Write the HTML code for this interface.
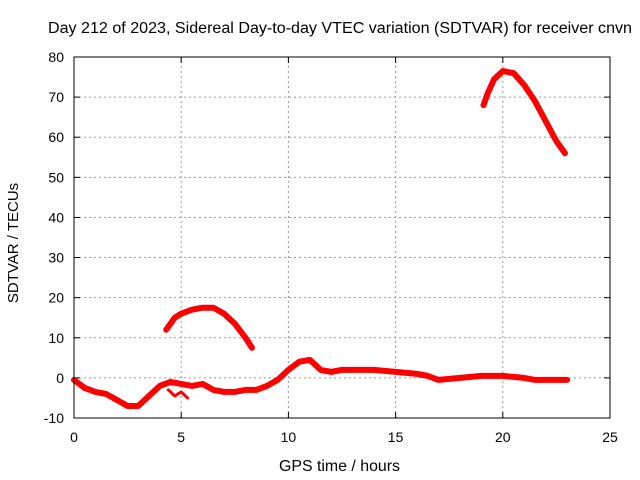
<!DOCTYPE html>
<html><head><meta charset="utf-8"><style>
body{margin:0;background:#fff;}
svg{display:block;font-family:"Liberation Sans",sans-serif;}
</style></head><body>
<svg id="chart" width="640" height="480" xmlns="http://www.w3.org/2000/svg">
<text x="48" y="33" font-size="15.5" textLength="584" lengthAdjust="spacingAndGlyphs">Day 212 of 2023, Sidereal Day-to-day VTEC variation (SDTVAR) for receiver cnvn</text>
<text x="279" y="471" font-size="15.5" textLength="121" lengthAdjust="spacingAndGlyphs">GPS time / hours</text>
<text x="18" y="243" font-size="15" text-anchor="middle" transform="rotate(-90 18 243)">SDTVAR / TECUs</text>
<g id="grid"></g><g id="ticks"></g><g id="series"></g>
<rect x="74" y="57" width="536" height="361" fill="none" stroke="#000" stroke-width="1"/>
</svg>
<script>
const xTicks=[0,5,10,15,20,25];
const yTicks=[-10,0,10,20,30,40,50,60,70,80];
const seriesMainX=[0,0.5,1,1.5,2,2.5,3,3.5,4,4.5,5,5.5,6,6.5,7,7.5,8,8.5,9,9.5,10,10.5,11,11.5,12,12.5,13,14,15,16,16.5,17,18,19,20,21,21.5,22,23];
const seriesMainY=[-0.5,-2.5,-3.5,-4,-5.5,-7,-7,-4.5,-2,-1,-1.5,-2,-1.5,-3,-3.5,-3.5,-3,-3,-2,-0.5,2,4,4.5,2,1.5,2,2,2,1.5,1,0.5,-0.5,0,0.5,0.5,0,-0.5,-0.5,-0.5];
const seriesMidX=[4.3,4.7,5,5.5,6,6.5,7,7.5,8,8.3];
const seriesMidY=[12,15,16,17,17.5,17.5,16,13.5,10,7.5];
const seriesHighX=[19.1,19.3,19.6,20,20.5,21,21.5,22,22.5,22.9];
const seriesHighY=[68,71,74.5,76.5,76,73,69,64,59,56];
const seriesNoiseX=[4.4,4.7,5,5.3];
const seriesNoiseY=[-3,-4.5,-3.5,-5];
const X0=74,X1=610,Y0=418,Y1=57;
const sx=v=>X0+(v-0)/25*(X1-X0);
const sy=v=>Y0-(v+10)/90*(Y0-Y1);
const NS="http://www.w3.org/2000/svg";
const grid=document.getElementById('grid'),ticks=document.getElementById('ticks'),ser=document.getElementById('series');
function mk(tag,attrs,parent){const e=document.createElementNS(NS,tag);for(const k in attrs)e.setAttribute(k,attrs[k]);parent.appendChild(e);return e;}
xTicks.forEach(t=>{const x=sx(t);
 if(t>0&&t<25){const g=mk('line',{x1:x,x2:x,y1:Y0,y2:Y1,stroke:'#999','stroke-dasharray':'2,3','stroke-width':1},grid);
 
 }
 const l=mk('text',{x:x,y:Y0+24,'font-size':14,'text-anchor':'middle'},ticks);l.textContent=t;
 
 
 mk('line',{x1:x,x2:x,y1:Y0,y2:Y0-6,stroke:'#000'},ticks);mk('line',{x1:x,x2:x,y1:Y1,y2:Y1+6,stroke:'#000'},ticks);});
yTicks.forEach(t=>{const y=sy(t);
 if(t>-10&&t<80){const g=mk('line',{x1:X0,x2:X1,y1:y,y2:y,stroke:'#999','stroke-dasharray':'2,3','stroke-width':1},grid);
 
 }
 const l=mk('text',{x:X0-10,y:y+5,'font-size':14,'text-anchor':'end'},ticks);l.textContent=t;
 
 
 mk('line',{x1:X0,x2:X0+6,y1:y,y2:y,stroke:'#000'},ticks);mk('line',{x1:X1,x2:X1-6,y1:y,y2:y,stroke:'#000'},ticks);});
function draw(xs,ys,name,w){const p=mk('polyline',{points:xs.map((x,i)=>sx(x)+','+sy(ys[i])).join(' '),fill:'none',stroke:'#f00','stroke-width':w,'stroke-linejoin':'round','stroke-linecap':'round'},ser);
 
 }
draw(seriesMainX,seriesMainY,'series-main',6);
draw(seriesNoiseX,seriesNoiseY,'series-noise',3);
draw(seriesMidX,seriesMidY,'series-mid',6);
draw(seriesHighX,seriesHighY,'series-high',6);
</script>
</body></html>
